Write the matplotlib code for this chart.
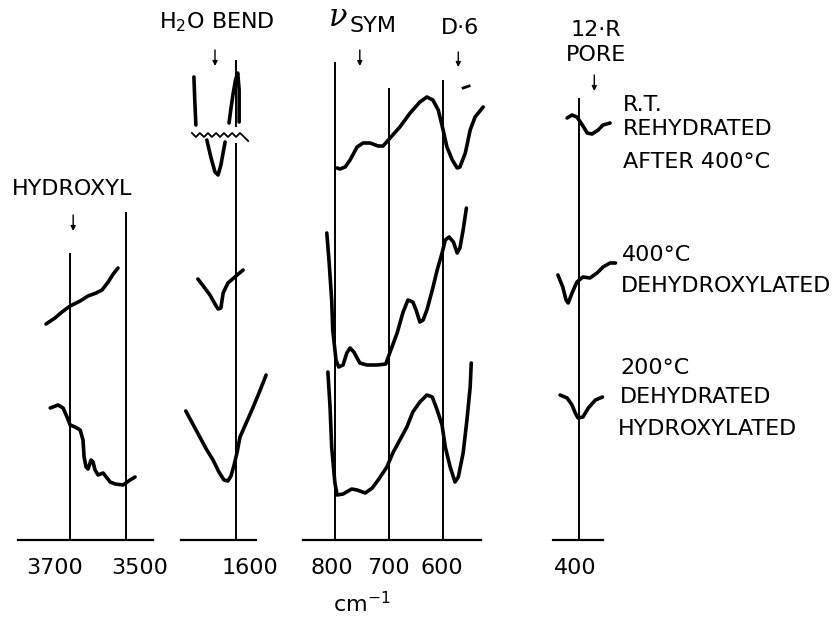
import matplotlib.pyplot as plt

# Spectra: x in cm-1, y in arbitrary offset units
# (0 = baseline, each trace shifted vertically like the original)

# hydroxyl region
oh_400_wn = [3786, 3754, 3729, 3700, 3664, 3636, 3607, 3586, 3564, 3546, 3529]
oh_400_y = [2.16, 2.22, 2.28, 2.34, 2.39, 2.44, 2.47, 2.50, 2.58, 2.66, 2.72]
oh_200_wn = [3771, 3743, 3725, 3711, 3700, 3682, 3664, 3654, 3650, 3643, 3636,
             3625, 3618, 3611, 3600, 3582, 3571, 3557, 3539, 3511, 3486, 3468]
oh_200_y = [1.32, 1.35, 1.32, 1.23, 1.15, 1.13, 1.10, 1.00, 0.83, 0.73, 0.71,
            0.80, 0.78, 0.70, 0.65, 0.67, 0.63, 0.58, 0.56, 0.55, 0.60, 0.63]

# H2O bend region (R.T. trace is off scale, drawn broken)
h2o_rt_a_wn = [1750, 1747, 1743]
h2o_rt_a_y = [4.63, 4.40, 4.15]
h2o_rt_b_wn = [1625, 1618, 1610, 1602, 1594, 1589, 1589]
h2o_rt_b_y = [4.17, 4.32, 4.47, 4.60, 4.67, 4.50, 4.18]
h2o_rt_c_wn = [1704, 1689, 1675, 1664, 1654, 1639]
h2o_rt_c_y = [4.00, 3.82, 3.68, 3.65, 3.75, 3.98]
break_wn = [1757, 1743, 1729, 1714, 1700, 1686, 1671, 1657, 1643, 1629, 1614,
            1600, 1586, 1571, 1557]
break_y = [4.07, 4.03, 4.07, 4.03, 4.07, 4.03, 4.07, 4.03, 4.07, 4.03, 4.07,
           4.03, 4.07, 4.03, 3.99]
h2o_400_wn = [1736, 1714, 1693, 1675, 1664, 1654, 1646, 1629, 1596, 1575]
h2o_400_y = [2.61, 2.53, 2.45, 2.36, 2.31, 2.32, 2.47, 2.57, 2.65, 2.70]
h2o_200_wn = [1779, 1754, 1729, 1704, 1682, 1661, 1643, 1629, 1618, 1607, 1596,
              1586, 1564, 1539, 1514, 1493]
h2o_200_y = [1.29, 1.16, 1.03, 0.90, 0.80, 0.68, 0.60, 0.59, 0.64, 0.75, 0.88,
             1.03, 1.17, 1.33, 1.50, 1.65]

# framework region
fw_rt_wn = [796, 791, 781, 772, 759, 748, 735, 720, 711, 698, 680, 661, 643,
            630, 619, 609, 600, 593, 583, 574, 569, 559, 550, 541, 526]
fw_rt_y = [3.72, 3.71, 3.73, 3.80, 3.93, 3.97, 3.97, 3.94, 3.94, 4.02, 4.13,
           4.27, 4.38, 4.43, 4.40, 4.30, 4.10, 3.93, 3.80, 3.72, 3.73, 3.87,
           4.10, 4.23, 4.33]
fw_speck_wn = [563, 552]
fw_speck_y = [4.52, 4.54]
fw_400_wn = [815, 811, 806, 804, 798, 793, 785, 778, 772, 765, 754, 741, 722,
             706, 698, 685, 674, 665, 656, 650, 643, 637, 630, 620, 611, 602,
             596, 589, 581, 574, 569, 563, 557]
fw_400_y = [3.07, 2.80, 2.40, 2.10, 1.80, 1.73, 1.75, 1.87, 1.92, 1.88, 1.77,
            1.75, 1.75, 1.76, 1.88, 2.07, 2.28, 2.40, 2.38, 2.30, 2.18, 2.20,
            2.30, 2.50, 2.70, 2.87, 3.00, 3.03, 2.98, 2.87, 2.92, 3.10, 3.32]
fw_200_wn = [813, 809, 806, 800, 796, 785, 769, 759, 744, 731, 720, 704, 693,
             680, 667, 656, 643, 630, 620, 611, 602, 596, 587, 578, 572, 563,
             556, 550, 548]
fw_200_y = [1.68, 1.33, 0.93, 0.57, 0.45, 0.46, 0.51, 0.50, 0.47, 0.52, 0.60,
            0.73, 0.87, 1.00, 1.13, 1.28, 1.38, 1.45, 1.43, 1.30, 1.15, 0.93,
            0.73, 0.58, 0.63, 0.87, 1.20, 1.53, 1.77]

# 12-R pore region
pore_rt_wn = [422, 413, 404, 394, 385, 376, 365, 356, 343]
pore_rt_y = [4.22, 4.25, 4.23, 4.15, 4.07, 4.06, 4.10, 4.15, 4.17]
pore_400_wn = [439, 430, 424, 420, 413, 404, 393, 380, 367, 356, 343, 333]
pore_400_y = [2.65, 2.53, 2.40, 2.37, 2.47, 2.58, 2.63, 2.62, 2.67, 2.73,
              2.77, 2.77]
pore_200_wn = [435, 422, 413, 407, 402, 393, 383, 370, 357]
pore_200_y = [1.45, 1.42, 1.35, 1.27, 1.22, 1.23, 1.32, 1.40, 1.43]

W, H = 840, 620
fig = plt.figure(figsize=(W / 100, H / 100), dpi=100)
plt.rcParams['font.family'] = ['DejaVu Sans']

CURVE = dict(color='black', lw=2.6, solid_capstyle='round', clip_on=False)
REF = dict(color='black', lw=1.4, clip_on=False)


def panel(x0, x1, xlim):
    # axes placed in pixel units: baseline at y=540, 100 px per unit
    ax = fig.add_axes([x0 / W, (H - 540) / H, (x1 - x0) / W, 500 / H])
    ax.set_xlim(xlim)
    ax.set_ylim(0, 5)
    for side in ['left', 'right', 'top']:
        ax.spines[side].set_visible(False)
    ax.spines['bottom'].set_linewidth(1.6)
    ax.set_xticks([])
    ax.set_yticks([])
    ax.patch.set_visible(False)
    return ax


def arrow(ax, x, y0, y1):
    ax.annotate('', xy=(x, y1), xytext=(x, y0), annotation_clip=False,
                arrowprops=dict(arrowstyle='-|>', color='black', lw=1.0,
                                mutation_scale=7, shrinkA=0, shrinkB=0))


def label(x, y, s, **kw):
    kw.setdefault('fontsize', 16)
    kw.setdefault('va', 'center')
    fig.text(x / W, 1 - y / H, s, **kw)


# hydroxyl
ax1 = panel(18, 153, (3886, 3404))
ax1.vlines([3700, 3500], 0, [2.87, 3.28], **REF)
ax1.plot(oh_400_wn, oh_400_y, **CURVE)
ax1.plot(oh_200_wn, oh_200_y, **CURVE)
arrow(ax1, 3689, 3.25, 3.09)

# H2O bend
ax2 = panel(181, 256, (1796, 1529))
ax2.vlines(1600, 0, 3.97, **REF)
ax2.vlines(1600, 4.13, 4.80, **REF)
ax2.plot(h2o_rt_a_wn, h2o_rt_a_y, **CURVE)
ax2.plot(h2o_rt_b_wn, h2o_rt_b_y, **CURVE)
ax2.plot(h2o_rt_c_wn, h2o_rt_c_y, **CURVE)
ax2.plot(break_wn, break_y, color='black', lw=1.3, clip_on=False)
ax2.plot(h2o_400_wn, h2o_400_y, **CURVE)
ax2.plot(h2o_200_wn, h2o_200_y, **CURVE)
arrow(ax2, 1675, 4.90, 4.74)

# framework
ax3 = panel(303, 481, (859, 530))
ax3.vlines([800, 700, 600], 0, [4.78, 4.52, 4.60], **REF)
ax3.plot(fw_rt_wn, fw_rt_y, **CURVE)
ax3.plot(fw_speck_wn, fw_speck_y, color='black', lw=2.0, clip_on=False)
ax3.plot(fw_400_wn, fw_400_y, **CURVE)
ax3.plot(fw_200_wn, fw_200_y, **CURVE)
arrow(ax3, 754, 4.90, 4.74)
arrow(ax3, 572, 4.88, 4.73)

# 12-R pore
ax4 = panel(553, 603, (448, 356))
ax4.vlines(400, 0, 4.42, **REF)
ax4.plot(pore_rt_wn, pore_rt_y, **CURVE)
ax4.plot(pore_400_wn, pore_400_y, **CURVE)
ax4.plot(pore_200_wn, pore_200_y, **CURVE)
arrow(ax4, 372, 4.65, 4.49)

# band labels
label(72, 189, 'HYDROXYL', ha='center')
label(217, 22, 'H$_2$O BEND', ha='center')
label(338, 17, 'ν', ha='center', fontsize=22, family='DejaVu Serif',
      style='italic')
label(373, 26, 'SYM', ha='center')
label(460, 28, 'D·6', ha='center')
label(596, 30, '12·R', ha='center')
label(596, 55, 'PORE', ha='center')

# sample labels
label(623, 105, 'R.T.')
label(623, 129, 'REHYDRATED')
label(623, 162, 'AFTER 400°C')
label(622, 255, '400°C')
label(621, 286, 'DEHYDROXYLATED')
label(620, 368, '200°C')
label(620, 397, 'DEHYDRATED')
label(618, 429, 'HYDROXYLATED')

# wavenumber labels
for x, s in [(55, '3700'), (140, '3500'), (250, '1600'), (332, '800'),
             (388, '700'), (442, '600'), (575, '400')]:
    label(x, 568, s, ha='center')
label(362, 604, 'cm$^{-1}$', ha='center')

fig.savefig('out.png', dpi=100, facecolor='white')
